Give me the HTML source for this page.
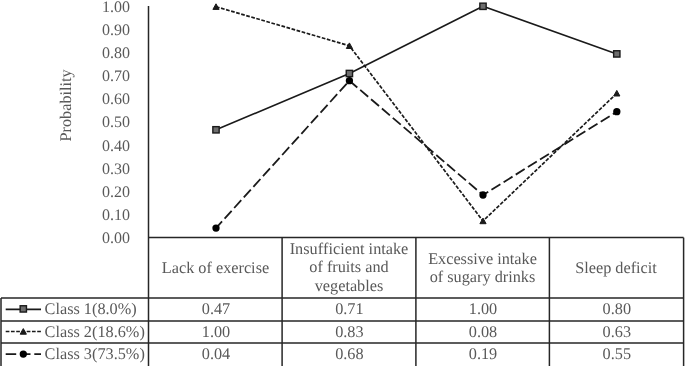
<!DOCTYPE html>
<html><head><meta charset="utf-8"><style>
html,body{margin:0;padding:0;background:#fff;}
body{width:685px;height:366px;overflow:hidden;}
svg{display:block;will-change:transform;}
.t{font-family:"Liberation Serif", serif;font-size:16.25px;fill:#595959;font-variant-ligatures:none;font-kerning:none;text-rendering:geometricPrecision;}
</style></head><body>
<svg width="685" height="366" viewBox="0 0 685 366">
<text x="130" y="243.00" text-anchor="end" class="t" style="font-size:16px">0.00</text>
<text x="130" y="219.88" text-anchor="end" class="t" style="font-size:16px">0.10</text>
<text x="130" y="196.77" text-anchor="end" class="t" style="font-size:16px">0.20</text>
<text x="130" y="173.66" text-anchor="end" class="t" style="font-size:16px">0.30</text>
<text x="130" y="150.54" text-anchor="end" class="t" style="font-size:16px">0.40</text>
<text x="130" y="127.43" text-anchor="end" class="t" style="font-size:16px">0.50</text>
<text x="130" y="104.31" text-anchor="end" class="t" style="font-size:16px">0.60</text>
<text x="130" y="81.20" text-anchor="end" class="t" style="font-size:16px">0.70</text>
<text x="130" y="58.08" text-anchor="end" class="t" style="font-size:16px">0.80</text>
<text x="130" y="34.97" text-anchor="end" class="t" style="font-size:16px">0.90</text>
<text x="130" y="11.85" text-anchor="end" class="t" style="font-size:16px">1.00</text>
<text transform="translate(71.1,105.4) rotate(-90)" text-anchor="middle" class="t">Probability</text>
<line x1="148.5" y1="6" x2="148.5" y2="366" stroke="#262626" stroke-width="1.5"/>
<line x1="148.5" y1="237.6" x2="683.6" y2="237.6" stroke="#262626" stroke-width="1.5"/>
<line x1="282.1" y1="237.6" x2="282.1" y2="366" stroke="#262626" stroke-width="1.5"/>
<line x1="415.9" y1="237.6" x2="415.9" y2="366" stroke="#262626" stroke-width="1.5"/>
<line x1="549.4" y1="237.6" x2="549.4" y2="366" stroke="#262626" stroke-width="1.5"/>
<line x1="683.6" y1="237.6" x2="683.6" y2="366" stroke="#262626" stroke-width="1.5"/>
<line x1="1.0" y1="298.1" x2="683.6" y2="298.1" stroke="#262626" stroke-width="1.5"/>
<line x1="1.0" y1="320.9" x2="683.6" y2="320.9" stroke="#262626" stroke-width="1.5"/>
<line x1="1.0" y1="342.95" x2="683.6" y2="342.95" stroke="#262626" stroke-width="1.5"/>
<line x1="1.0" y1="298.1" x2="1.0" y2="366" stroke="#262626" stroke-width="1.5"/>
<text x="215.5" y="273.1" text-anchor="middle" class="t">Lack of exercise</text>
<text x="349" y="253.8" text-anchor="middle" class="t">Insufficient intake</text>
<text x="349" y="272.3" text-anchor="middle" class="t">of fruits and</text>
<text x="349" y="291.0" text-anchor="middle" class="t">vegetables</text>
<text x="482.5" y="263.6" text-anchor="middle" class="t">Excessive intake</text>
<text x="482.5" y="281.8" text-anchor="middle" class="t">of sugary drinks</text>
<text x="616" y="273.1" text-anchor="middle" class="t">Sleep deficit</text>
<text x="216" y="314.4" text-anchor="middle" class="t">0.47</text>
<text x="349.4" y="314.4" text-anchor="middle" class="t">0.71</text>
<text x="483" y="314.4" text-anchor="middle" class="t">1.00</text>
<text x="616.8" y="314.4" text-anchor="middle" class="t">0.80</text>
<text x="216" y="336.8" text-anchor="middle" class="t">1.00</text>
<text x="349.4" y="336.8" text-anchor="middle" class="t">0.83</text>
<text x="483" y="336.8" text-anchor="middle" class="t">0.08</text>
<text x="616.8" y="336.8" text-anchor="middle" class="t">0.63</text>
<text x="216" y="359.4" text-anchor="middle" class="t">0.04</text>
<text x="349.4" y="359.4" text-anchor="middle" class="t">0.68</text>
<text x="483" y="359.4" text-anchor="middle" class="t">0.19</text>
<text x="616.8" y="359.4" text-anchor="middle" class="t">0.55</text>
<text x="44.6" y="314.4" class="t">Class 1(8.0%)</text>
<text x="44.6" y="336.8" class="t">Class 2(18.6%)</text>
<text x="44.6" y="359.4" class="t">Class 3(73.5%)</text>
<polyline points="216.00,129.80 349.40,73.50 483.00,6.30 616.80,53.90" fill="none" stroke="#1a1a1a" stroke-width="1.6" stroke-linejoin="round"/>
<polyline points="216.00,6.70 349.40,45.80 483.00,221.00 616.80,93.30" fill="none" stroke="#1a1a1a" stroke-width="1.7" stroke-dasharray="3.7 1.55" stroke-linejoin="round"/>
<polyline points="216.00,228.10 349.40,80.70 483.00,195.00 616.80,111.70" fill="none" stroke="#1a1a1a" stroke-width="1.8" stroke-dasharray="10.5 3.8" stroke-dashoffset="1.5" stroke-linejoin="round"/>
<rect x="212.85" y="126.65" width="6.3" height="6.3" fill="#6e6e6e" stroke="#1a1a1a" stroke-width="1.4"/>
<rect x="346.25" y="70.35" width="6.3" height="6.3" fill="#6e6e6e" stroke="#1a1a1a" stroke-width="1.4"/>
<rect x="479.85" y="3.15" width="6.3" height="6.3" fill="#6e6e6e" stroke="#1a1a1a" stroke-width="1.4"/>
<rect x="613.65" y="50.75" width="6.3" height="6.3" fill="#6e6e6e" stroke="#1a1a1a" stroke-width="1.4"/>
<path d="M216.00,3.80 L219.10,9.40 L212.90,9.40 Z" fill="#1a1a1a" stroke="#1a1a1a" stroke-width="1" stroke-linejoin="round"/>
<path d="M349.40,42.90 L352.50,48.50 L346.30,48.50 Z" fill="#1a1a1a" stroke="#1a1a1a" stroke-width="1" stroke-linejoin="round"/>
<path d="M483.00,218.10 L486.10,223.70 L479.90,223.70 Z" fill="#1a1a1a" stroke="#1a1a1a" stroke-width="1" stroke-linejoin="round"/>
<path d="M616.80,90.40 L619.90,96.00 L613.70,96.00 Z" fill="#1a1a1a" stroke="#1a1a1a" stroke-width="1" stroke-linejoin="round"/>
<circle cx="216.00" cy="228.10" r="3.65" fill="#000"/>
<circle cx="349.40" cy="80.70" r="3.65" fill="#000"/>
<circle cx="483.00" cy="195.00" r="3.65" fill="#000"/>
<circle cx="616.80" cy="111.70" r="3.65" fill="#000"/>
<line x1="5.7" y1="309.4" x2="41" y2="309.4" stroke="#1a1a1a" stroke-width="1.6"/>
<rect x="20.15" y="305.75" width="6.3" height="6.3" fill="#6e6e6e" stroke="#1a1a1a" stroke-width="1.4"/>
<line x1="5.7" y1="331.5" x2="41" y2="331.5" stroke="#1a1a1a" stroke-width="1.7" stroke-dasharray="3.7 1.55"/>
<path d="M23.30,328.60 L26.40,334.20 L20.20,334.20 Z" fill="#1a1a1a" stroke="#1a1a1a" stroke-width="1" stroke-linejoin="round"/>
<line x1="5.7" y1="354.1" x2="41" y2="354.1" stroke="#1a1a1a" stroke-width="1.8" stroke-dasharray="10.5 3.8"/>
<circle cx="23.30" cy="354.10" r="3.65" fill="#000"/>
</svg>
</body></html>
